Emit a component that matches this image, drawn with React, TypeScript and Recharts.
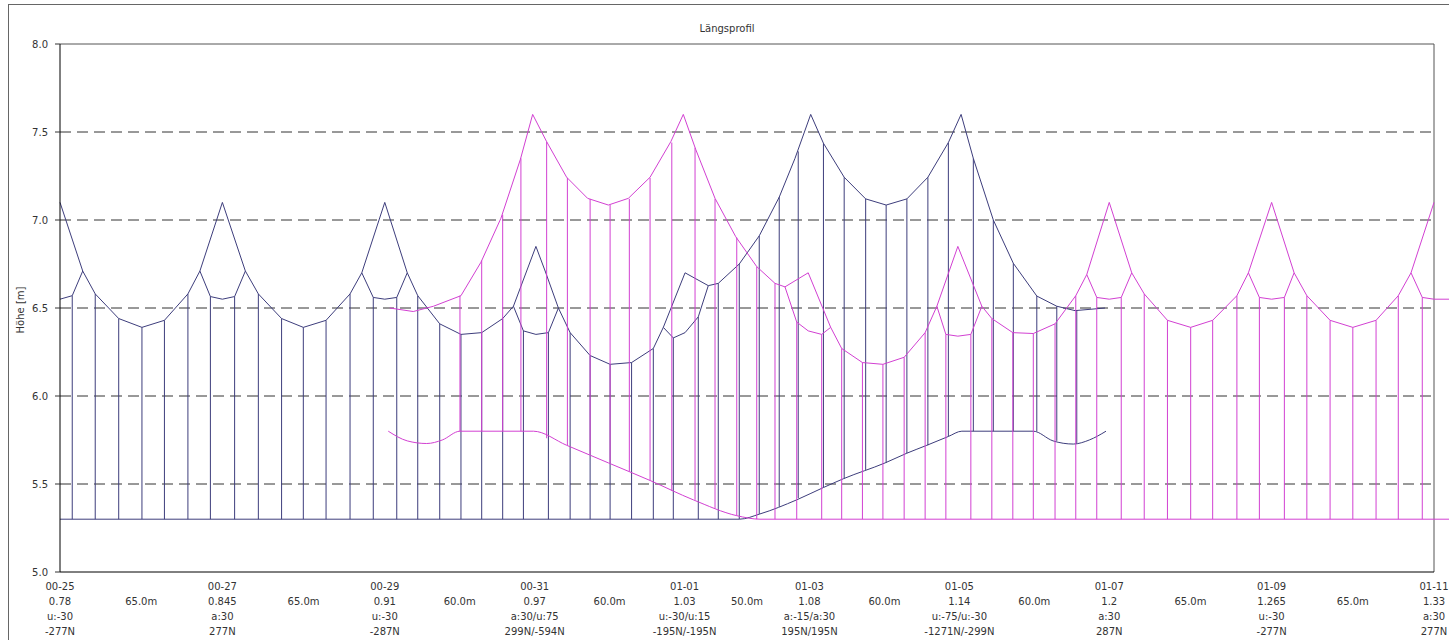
import { ComposedChart, Line, XAxis, YAxis, ReferenceLine } from 'recharts';

type Pt = [number, number];
type Drop = [number, number, number]; // x, unten, oben

const NAVY = '#3d3d7c';
const PINK = '#d240d2';
const FONT = '"DejaVu Sans", Verdana, sans-serif';

// Masten
const poleX = [0, 65, 130, 190, 250, 300, 360, 420, 485, 550];
const poleNames = ['00-25', '00-27', '00-29', '00-31', '01-01', '01-03', '01-05', '01-07', '01-09', '01-11'];
const poleKm = ['0.78', '0.845', '0.91', '0.97', '1.03', '1.08', '1.14', '1.2', '1.265', '1.33'];
const poleOffset = ['u:-30', 'a:30', 'u:-30', 'a:30/u:75', 'u:-30/u:15', 'a:-15/a:30', 'u:-75/u:-30', 'a:30', 'u:-30', 'a:30'];
const poleForce = ['-277N', '277N', '-287N', '299N/-594N', '-195N/-195N', '195N/195N', '-1271N/-299N', '287N', '-277N', '277N'];
const spanLen = ['65.0m', '65.0m', '60.0m', '60.0m', '50.0m', '60.0m', '60.0m', '65.0m', '65.0m'];

const yTicks = [5.0, 5.5, 6.0, 6.5, 7.0, 7.5, 8.0];
const gridY = [5.5, 6.0, 6.5, 7.0, 7.5];

// Nachspann 1 (blau)
const navyMessenger: Pt[] = [
  [0, 7.1], [9.1, 6.71], [14.1, 6.58], [23.5, 6.44], [32.8, 6.39], [41.8, 6.43], [51.2, 6.58], [56, 6.71], [65, 7.1],
  [74.2, 6.71], [79.4, 6.58], [88.7, 6.44], [97.4, 6.39], [106.5, 6.43], [116.1, 6.58], [120.8, 6.7], [130, 7.1],
  [139, 6.7], [143.2, 6.57], [152, 6.41], [160.5, 6.35], [168.8, 6.36], [177.2, 6.44], [181.5, 6.51], [190.5, 6.85],
  [194.2, 6.71], [199.5, 6.5], [204.2, 6.36], [212.2, 6.23], [220.2, 6.18], [228.8, 6.19], [237.5, 6.27], [241.5, 6.39], [250.2, 6.7],
  [259.5, 6.627], [263.5, 6.64], [271.9, 6.75], [279.9, 6.91], [287.9, 7.13], [294.2, 7.35], [300.5, 7.6],
  [305.6, 7.436], [313.9, 7.243], [322.5, 7.12], [330.7, 7.085], [339, 7.12], [347.4, 7.243], [355.6, 7.44], [360.7, 7.6],
  [365.6, 7.35], [373.6, 7.0], [381.6, 6.754], [391, 6.568], [399, 6.51], [406.3, 6.485], [418.3, 6.5],
];
const navyStitch: Pt[][] = [
  [[0, 6.55], [4.9, 6.57], [9.1, 6.71]],
  [[56, 6.71], [60.2, 6.565], [65, 6.55], [69.9, 6.565], [74.2, 6.71]],
  [[120.8, 6.7], [125.4, 6.56], [130, 6.55], [134.8, 6.56], [139, 6.7]],
  [[181.5, 6.51], [185.5, 6.37], [190.5, 6.35], [195.5, 6.36], [199.5, 6.5]],
  [[241.5, 6.39], [245.5, 6.33], [250.2, 6.36], [255.5, 6.45], [259.5, 6.627]],
];
const navyContact: Pt[] = [
  [0, 5.3], [272, 5.3], [280.2, 5.33], [294.9, 5.41], [305.6, 5.48], [313.6, 5.53], [330.3, 5.62], [339, 5.675],
  [347, 5.72], [355.6, 5.77], [361, 5.8], [389.6, 5.8], [397.5, 5.745], [405.6, 5.727], [412, 5.75], [418.7, 5.8],
];
const navyDroppers: Drop[] = [
  [4.9, 5.3, 6.57], [14.1, 5.3, 6.58], [23.5, 5.3, 6.44], [32.8, 5.3, 6.39], [41.8, 5.3, 6.43], [51.2, 5.3, 6.58], [60.2, 5.3, 6.565],
  [69.9, 5.3, 6.565], [79.4, 5.3, 6.58], [88.7, 5.3, 6.44], [97.4, 5.3, 6.39], [106.5, 5.3, 6.43], [116.1, 5.3, 6.58], [125.4, 5.3, 6.56],
  [134.8, 5.3, 6.56], [143.2, 5.3, 6.57], [152, 5.3, 6.41], [160.5, 5.3, 6.35], [168.8, 5.3, 6.36], [177.2, 5.3, 6.44], [185.5, 5.3, 6.37],
  [195.5, 5.3, 6.36], [204.2, 5.3, 6.36], [212.2, 5.3, 6.23], [220.2, 5.3, 6.18], [228.8, 5.3, 6.19], [237.5, 5.3, 6.27], [245.5, 5.3, 6.33],
  [255.5, 5.3, 6.45], [263.5, 5.3, 6.64], [271.9, 5.3, 6.75], [279.9, 5.33, 6.91], [287.9, 5.37, 7.13], [295.5, 5.42, 7.39],
  [305.6, 5.48, 7.436], [313.9, 5.53, 7.243], [322.5, 5.58, 7.12], [330.7, 5.62, 7.085], [339, 5.675, 7.12], [347.4, 5.72, 7.243], [355.6, 5.77, 7.44],
  [365.6, 5.8, 7.35], [373.6, 5.8, 7.0], [381.6, 5.8, 6.754], [391, 5.8, 6.568], [399, 5.745, 6.51], [407, 5.73, 6.485],
];

// Nachspann 2 (magenta)
const pinkMessenger: Pt[] = [
  [132, 6.5], [141.4, 6.48], [149.5, 6.51], [160.5, 6.57], [168.5, 6.76], [176.5, 7.01], [184.3, 7.345], [189.2, 7.6],
  [194.8, 7.445], [202.8, 7.243], [211.2, 7.123], [219.5, 7.085], [227.5, 7.123], [236.2, 7.243], [244.5, 7.445], [249.5, 7.6],
  [254.5, 7.4], [262.2, 7.123], [270.5, 6.905], [278.9, 6.735], [286.2, 6.64], [290.2, 6.62], [299.5, 6.7],
  [308.5, 6.39], [312.9, 6.27], [321.2, 6.19], [329.4, 6.18], [337.9, 6.22], [346.3, 6.36], [351, 6.51], [359.4, 6.85],
  [369, 6.51], [373, 6.44], [381.4, 6.36], [389.6, 6.355], [398.3, 6.41], [406.6, 6.57], [411, 6.69], [420, 7.1],
  [429, 6.7], [434, 6.58], [443.3, 6.43], [452.6, 6.39], [461.4, 6.43], [471.1, 6.57], [475.7, 6.7], [485, 7.1],
  [494, 6.7], [499.1, 6.57], [508.4, 6.43], [517.5, 6.39], [526.8, 6.43], [535.7, 6.57], [540.8, 6.7], [550, 7.1],
];
const pinkStitch: Pt[][] = [
  [[290.2, 6.62], [294.9, 6.42], [299.5, 6.37], [304.9, 6.35], [308.5, 6.39]],
  [[351, 6.51], [354.6, 6.35], [359.4, 6.34], [364.6, 6.35], [369, 6.51]],
  [[411, 6.69], [415, 6.56], [420, 6.55], [424.8, 6.56], [429, 6.7]],
  [[475.7, 6.7], [480.1, 6.56], [485, 6.55], [490.1, 6.56], [494, 6.7]],
  [[540.8, 6.7], [545.3, 6.56], [550, 6.55], [556, 6.55]],
];
const pinkContact: Pt[] = [
  [131.4, 5.8], [139, 5.745], [146.8, 5.73], [153, 5.75], [160.1, 5.8], [189.5, 5.8], [202.8, 5.72], [219.5, 5.62],
  [236.2, 5.52], [253.5, 5.41], [270.9, 5.32], [280.2, 5.3], [556, 5.3],
];
const pinkDroppers: Drop[] = [
  [160.1, 5.8, 6.57], [168.8, 5.8, 6.77], [177.2, 5.8, 7.03], [184.5, 5.8, 7.35],
  [194.8, 5.76, 7.445], [203.1, 5.72, 7.24], [212.2, 5.67, 7.12], [220.2, 5.62, 7.085], [227.9, 5.57, 7.12], [236.2, 5.52, 7.24], [244.9, 5.46, 7.44],
  [254.2, 5.41, 7.41], [262.2, 5.36, 7.12], [270.9, 5.32, 6.9], [278.9, 5.3, 6.735], [286.2, 5.3, 6.64], [294.9, 5.3, 6.42],
  [304.9, 5.3, 6.35], [312.9, 5.3, 6.27], [321.2, 5.3, 6.19], [329.4, 5.3, 6.18], [337.9, 5.3, 6.22], [346.3, 5.3, 6.36], [354.6, 5.3, 6.35],
  [364.6, 5.3, 6.35], [373, 5.3, 6.44], [381.4, 5.3, 6.36], [389.6, 5.3, 6.355], [398.3, 5.3, 6.41], [406.6, 5.3, 6.57], [415, 5.3, 6.56],
  [424.8, 5.3, 6.56], [434, 5.3, 6.58], [443.3, 5.3, 6.43], [452.6, 5.3, 6.39], [461.4, 5.3, 6.43], [471.1, 5.3, 6.57], [480.1, 5.3, 6.56],
  [490.1, 5.3, 6.56], [499.1, 5.3, 6.57], [508.4, 5.3, 6.43], [517.5, 5.3, 6.39], [526.8, 5.3, 6.43], [535.7, 5.3, 6.57], [545.3, 5.3, 6.56],
];

const toRows = (pts: Pt[]) => pts.map(([x, y]) => ({ x, y }));
const joinParts = (parts: Pt[][]) =>
  parts.flatMap((p) => [...toRows(p), { x: p[p.length - 1][0], y: null as number | null }]);
const dropRows = (drops: Drop[]) =>
  drops.flatMap(([x, lo, hi]) => [{ x, y: lo }, { x, y: hi }, { x, y: null as number | null }]);

const spanMid = spanLen.map((_, i) => (poleX[i] + poleX[i + 1]) / 2);
const xTicks = [...poleX, ...spanMid];

const XTick = (props: any) => {
  const { x, y, payload } = props;
  const v = payload.value;
  const pi = poleX.findIndex((p) => Math.abs(p - v) < 0.01);
  const common = { x, textAnchor: 'middle' as const, fontSize: 10, fill: '#333', fontFamily: FONT };
  if (pi >= 0) {
    return (
      <g>
        <text {...common} y={y + 18}>{poleNames[pi]}</text>
        <text {...common} y={y + 33}>{poleKm[pi]}</text>
        <text {...common} y={y + 48}>{poleOffset[pi]}</text>
        <text {...common} y={y + 63}>{poleForce[pi]}</text>
      </g>
    );
  }
  const si = spanMid.findIndex((p) => Math.abs(p - v) < 0.01);
  return (
    <text {...common} y={y + 33}>{si >= 0 ? spanLen[si] : ''}</text>
  );
};

const App = () => {
  return (
    <div style={{ position: 'absolute', left: 0, top: 0, width: 1449, height: 640, overflow: 'hidden', background: '#fff', fontFamily: FONT }}>
      <div style={{ position: 'absolute', left: 8, top: 4, width: 1470, height: 680, border: '1px solid #666' }} />
      <div style={{ position: 'absolute', left: 0, top: 23, width: 1454, textAlign: 'center', fontSize: 10, color: '#333' }}>
        Längsprofil
      </div>
      <div
        style={{
          position: 'absolute', left: 20, top: 310, fontSize: 10, color: '#333', whiteSpace: 'nowrap',
          transform: 'translate(-50%, -50%) rotate(-90deg)',
        }}
      >
        Höhe [m]
      </div>
      <div style={{ position: 'absolute', left: 0, top: 0 }}>
        <ComposedChart width={1449} height={640} margin={{ top: 44, right: 0, bottom: 0, left: 0 }}>
          <XAxis
            dataKey="x"
            type="number"
            domain={[0, 556]}
            ticks={xTicks}
            interval={0}
            axisLine={false}
            tickLine={false}
            tickSize={0}
            tickMargin={0}
            height={68}
            tick={<XTick />}
          />
          <YAxis
            type="number"
            domain={[5, 8]}
            ticks={yTicks}
            width={60}
            tickFormatter={(v: number) => v.toFixed(1)}
            tick={{ fontSize: 10, fill: '#333', fontFamily: FONT }}
            axisLine={{ stroke: '#000' }}
            tickLine={{ stroke: '#333' }}
            tickSize={5}
            tickMargin={7}
          />
          {gridY.map((g) => (
            <ReferenceLine key={g} segment={[{ x: 0, y: g }, { x: 550, y: g }]} stroke="#333" strokeDasharray="11 6" />
          ))}
          <ReferenceLine segment={[{ x: 0, y: 8 }, { x: 550, y: 8 }]} stroke="#555" />
          <ReferenceLine segment={[{ x: 550, y: 5 }, { x: 550, y: 8 }]} stroke="#555" />
          <ReferenceLine segment={[{ x: 0, y: 5 }, { x: 550, y: 5 }]} stroke="#000" />

          <Line data={dropRows(navyDroppers)} dataKey="y" type="linear" stroke={NAVY} strokeWidth={1} dot={false} activeDot={false} isAnimationActive={false} />
          <Line data={toRows(navyMessenger)} dataKey="y" type="linear" stroke={NAVY} strokeWidth={1} dot={false} activeDot={false} isAnimationActive={false} />
          <Line data={joinParts(navyStitch)} dataKey="y" type="linear" stroke={NAVY} strokeWidth={1} dot={false} activeDot={false} isAnimationActive={false} />
          <Line data={toRows(navyContact)} dataKey="y" type="monotone" stroke={NAVY} strokeWidth={1} dot={false} activeDot={false} isAnimationActive={false} />

          <Line data={dropRows(pinkDroppers)} dataKey="y" type="linear" stroke={PINK} strokeWidth={1} dot={false} activeDot={false} isAnimationActive={false} />
          <Line data={toRows(pinkMessenger)} dataKey="y" type="linear" stroke={PINK} strokeWidth={1} dot={false} activeDot={false} isAnimationActive={false} />
          <Line data={joinParts(pinkStitch)} dataKey="y" type="linear" stroke={PINK} strokeWidth={1} dot={false} activeDot={false} isAnimationActive={false} />
          <Line data={toRows(pinkContact)} dataKey="y" type="monotone" stroke={PINK} strokeWidth={1} dot={false} activeDot={false} isAnimationActive={false} />
        </ComposedChart>
      </div>
    </div>
  );
};

export default App;
